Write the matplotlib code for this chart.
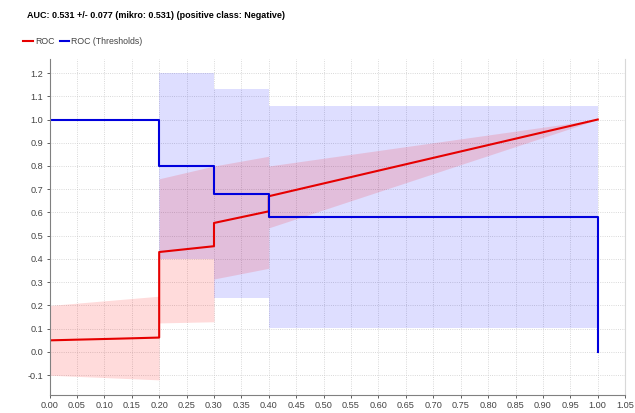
import numpy as np
import matplotlib
matplotlib.use("Agg")
from matplotlib import pyplot as plt
from matplotlib.lines import Line2D

plt.rcParams['font.family'] = ['Liberation Sans', 'DejaVu Sans']

title = "AUC: 0.531 +/- 0.077 (mikro: 0.531) (positive class: Negative)"

# ROC curve (red)
roc_x = [0.0, 0.0, 0.05, 0.12, 0.2, 0.2, 0.3, 0.3, 0.4, 0.4, 1.0]
roc_y = [0.0, 0.05, 0.053, 0.057, 0.062, 0.43, 0.455, 0.555, 0.605, 0.67, 1.0]

# ROC band (red, piecewise linear)
roc_band_x = [0.0, 0.2, 0.2, 0.3, 0.3, 0.4, 0.4, 1.0]
roc_band_hi = [0.20, 0.24, 0.745, 0.80, 0.80, 0.842, 0.80, 1.0]
roc_band_lo = [-0.10, -0.12, 0.125, 0.13, 0.314, 0.36, 0.534, 1.0]

# ROC thresholds (blue)
thr_x = [0.0, 0.2, 0.2, 0.3, 0.3, 0.4, 0.4, 1.0, 1.0]
thr_y = [1.0, 1.0, 0.80, 0.80, 0.68, 0.68, 0.58, 0.58, 0.0]

# thresholds band (blue, steps)
thr_band_x = [0.2, 0.3, 0.3, 0.4, 0.4, 1.0]
thr_band_hi = [1.20, 1.20, 1.132, 1.132, 1.057, 1.057]
thr_band_lo = [0.40, 0.40, 0.232, 0.232, 0.103, 0.103]

x_ticks = np.arange(0, 1.0501, 0.05)
y_ticks = np.arange(-0.1, 1.2001, 0.1)

fig = plt.figure(figsize=(6.35, 4.13), dpi=100)
ax = fig.add_axes([0.078, 0.0436, 0.9065, 0.8134])

ax.fill_between(thr_band_x, thr_band_lo, thr_band_hi, color='#0000ff', alpha=0.13, linewidth=0)
ax.fill_between(roc_band_x, roc_band_lo, roc_band_hi, color='#ff0000', alpha=0.14, linewidth=0)
ax.plot(roc_x, roc_y, color='#e60000', linewidth=1.5)
ax.plot(thr_x, thr_y, color='#0000dd', linewidth=1.5)

ax.set_xlim(0, 1.05)
ax.set_ylim(-0.185, 1.26)
ax.set_xticks(x_ticks)
ax.set_xticklabels([f"{v:.2f}" for v in x_ticks])
ax.set_yticks(y_ticks)
ax.set_yticklabels([f"{v:.1f}" if abs(v) > 1e-9 else "0.0" for v in y_ticks])
ax.tick_params(labelsize=6.6, colors='#444444', length=2, width=0.6, pad=2.5)
ax.grid(True, linestyle=':', color='#cccccc', linewidth=0.6)
ax.set_axisbelow(True)

ax.spines['top'].set_visible(False)
ax.spines['right'].set_color('#d8d8d8')
ax.spines['left'].set_color('#808080')
ax.spines['bottom'].set_color('#808080')

fig.text(27 / 635, 1 - 16 / 413, title, fontsize=6.5, fontweight='bold', va='center', ha='left')

handles = [Line2D([], [], color='#e60000', linewidth=1.5),
           Line2D([], [], color='#0000dd', linewidth=1.5)]
leg = fig.legend(handles, ["ROC", "ROC (Thresholds)"], loc='center left',
                 bbox_to_anchor=(19 / 635, 1 - 42 / 413), ncol=2, frameon=False,
                 fontsize=6.3, handlelength=1.1, handletextpad=0.2, columnspacing=0.6,
                 borderpad=0)
for t in leg.get_texts():
    t.set_color('#444444')

fig.savefig("out.png", dpi=100)
